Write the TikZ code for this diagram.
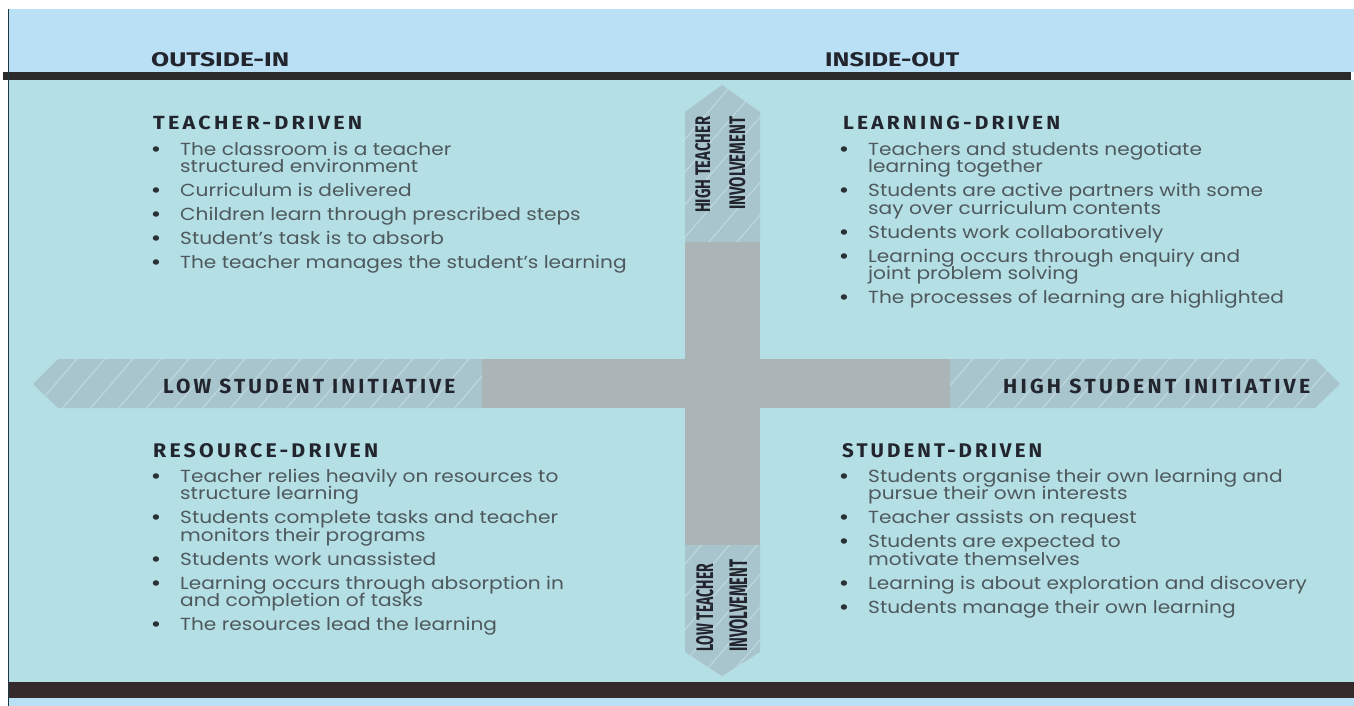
\documentclass[tikz,border=0pt]{standalone}
\usepackage{fontspec}
\usepackage{graphicx}
\setmainfont{Poppins}[FakeStretch=1.15]
\newfontfamily\headf{Fira Sans}[LetterSpace=15]
\newfontfamily\condf{Fira Sans}
\definecolor{topbg}{HTML}{B9E0F4}
\definecolor{mainbg}{HTML}{B4DFE5}
\definecolor{darkbar}{HTML}{2C2B2C}
\definecolor{botbar}{HTML}{352A2C}
\definecolor{bordc}{HTML}{1E3A40}
\definecolor{graybar}{HTML}{ABB4B6}
\definecolor{hatchbg}{HTML}{A8C5CE}
\definecolor{hatchln}{HTML}{BDD7DD}
\definecolor{headc}{HTML}{22252E}
\definecolor{bodyc}{HTML}{4E595D}
\definecolor{bulc}{HTML}{2A3236}
\newcommand\fitbox[3]{\resizebox{#1pt}{#2pt}{#3}}
\newcommand\entry[4]{%
  \node[bul] (#1b) at (#2-24,#3) {•};
  \node[body] (#1) at (#2,#3) {#4};}
\newcommand\cont[4]{\node[body] (#1) at (#2,#3) {#4};}
\newcommand\hatchfill[1]{%
  \begin{scope}
    \clip #1;
    \fill[hatchbg] (0,0) rectangle (1354,706);
    \foreach \i in {-700,-672,...,1400}{\draw[hatchln,line width=1.2pt] (\i,710) -- ++(610,-712);}
  \end{scope}}
\begin{document}
\begin{tikzpicture}[x=1pt,y=-1pt,
  head/.style={anchor=base west,inner sep=0,text=headc,font=\headf\bfseries},
  cond/.style={anchor=base west,inner sep=0,text=headc,font=\condf\bfseries},
  body/.style={anchor=base west,inner sep=0,text=bodyc,font=\fontsize{17.5}{17.5}\selectfont},
  bul/.style={anchor=base,inner sep=0,text=bulc,font=\fontsize{18}{18}\selectfont\bfseries}]
\useasboundingbox (0,0) rectangle (1354,706);
\fill[white] (0,0) rectangle (1354,706);
% backgrounds
\fill[topbg] (9,9) rectangle (1354,72);
\fill[mainbg] (9,80) rectangle (1354,682);
\fill[darkbar] (3,72) rectangle (1351,80);
\fill[botbar] (8,682) rectangle (1354,698);
\fill[topbg] (9,698) rectangle (1354,706);
\draw[bordc,line width=1.6pt] (8.5,9) -- (8.5,706);
% cross
\fill[graybar] (480,359) rectangle (952,408);
\fill[graybar] (685,240) rectangle (760,547);
\hatchfill{(33,384) -- (58,359) -- (482,359) -- (482,408) -- (58,408) -- cycle}
\hatchfill{(950,359) -- (1315,359) -- (1340,384) -- (1315,408) -- (950,408) -- cycle}
\hatchfill{(685,242) -- (685,112) -- (722,85) -- (760,112) -- (760,242) -- cycle}
\hatchfill{(685,545) -- (685,652) -- (722,676) -- (760,652) -- (760,545) -- cycle}
% top labels
\node[cond] (outin) at (151,67) {\fitbox{138}{14}{OUTSIDE-IN}};
\node[cond] (inout) at (825,67) {\fitbox{134}{14}{INSIDE-OUT}};
% axis labels
\node[head] (lowsi) at (163,393) {\fitbox{292}{14.5}{LOW STUDENT INITIATIVE}};
\node[head] (highsi) at (1003,393) {\fitbox{307}{14.5}{HIGH STUDENT INITIATIVE}};
\node[cond,rotate=90] (hti1) at (710,213) {\fitbox{96}{15}{HIGH TEACHER}};
\node[cond,rotate=90] (hti2) at (745,210) {\fitbox{93}{16}{INVOLVEMENT}};
\node[cond,rotate=90] (lti1) at (713,652) {\fitbox{88}{17}{LOW TEACHER}};
\node[cond,rotate=90] (lti2) at (747,652) {\fitbox{92}{18}{INVOLVEMENT}};
% quadrant headings
\node[head] (tdh) at (153,130) {\fitbox{209}{13.5}{TEACHER-DRIVEN}};
\node[head] (ldh) at (843,130) {\fitbox{217}{13.5}{LEARNING-DRIVEN}};
\node[head] (rdh) at (153,457) {\fitbox{225}{14}{RESOURCE-DRIVEN}};
\node[head] (sdh) at (842,457) {\fitbox{200}{14}{STUDENT-DRIVEN}};
% teacher-driven
\entry{td1}{180}{155}{The classroom is a teacher}
\cont{td1b2}{180}{172.5}{structured environment}
\entry{td2}{180}{196.5}{Curriculum is delivered}
\entry{td3}{180}{220.5}{Children learn through prescribed steps}
\entry{td4}{180}{244.5}{Student’s task is to absorb}
\entry{td5}{180}{268.5}{The teacher manages the student’s learning}
% learning-driven
\entry{ld1}{868}{155}{Teachers and students negotiate}
\cont{ld1b2}{868}{172.5}{learning together}
\entry{ld2}{868}{196.5}{Students are active partners with some}
\cont{ld2b2}{868}{214}{say over curriculum contents}
\entry{ld3}{868}{238}{Students work collaboratively}
\entry{ld4}{868}{262}{Learning occurs through enquiry and}
\cont{ld4b2}{868}{279.5}{joint problem solving}
\entry{ld5}{868}{303.5}{The processes of learning are highlighted}
% resource-driven
\entry{rd1}{180}{482}{Teacher relies heavily on resources to}
\cont{rd1b2}{180}{499.5}{structure learning}
\entry{rd2}{180}{523.5}{Students complete tasks and teacher}
\cont{rd2b2}{180}{541}{monitors their programs}
\entry{rd3}{180}{565}{Students work unassisted}
\entry{rd4}{180}{589}{Learning occurs through absorption in}
\cont{rd4b2}{180}{606.5}{and completion of tasks}
\entry{rd5}{180}{630.5}{The resources lead the learning}
% student-driven
\entry{sd1}{868}{482}{Students organise their own learning and}
\cont{sd1b2}{868}{499.5}{pursue their own interests}
\entry{sd2}{868}{523.5}{Teacher assists on request}
\entry{sd3}{868}{547.5}{Students are expected to}
\cont{sd3b2}{868}{565}{motivate themselves}
\entry{sd4}{868}{589}{Learning is about exploration and discovery}
\entry{sd5}{868}{613}{Students manage their own learning}
\end{tikzpicture}
\end{document}
